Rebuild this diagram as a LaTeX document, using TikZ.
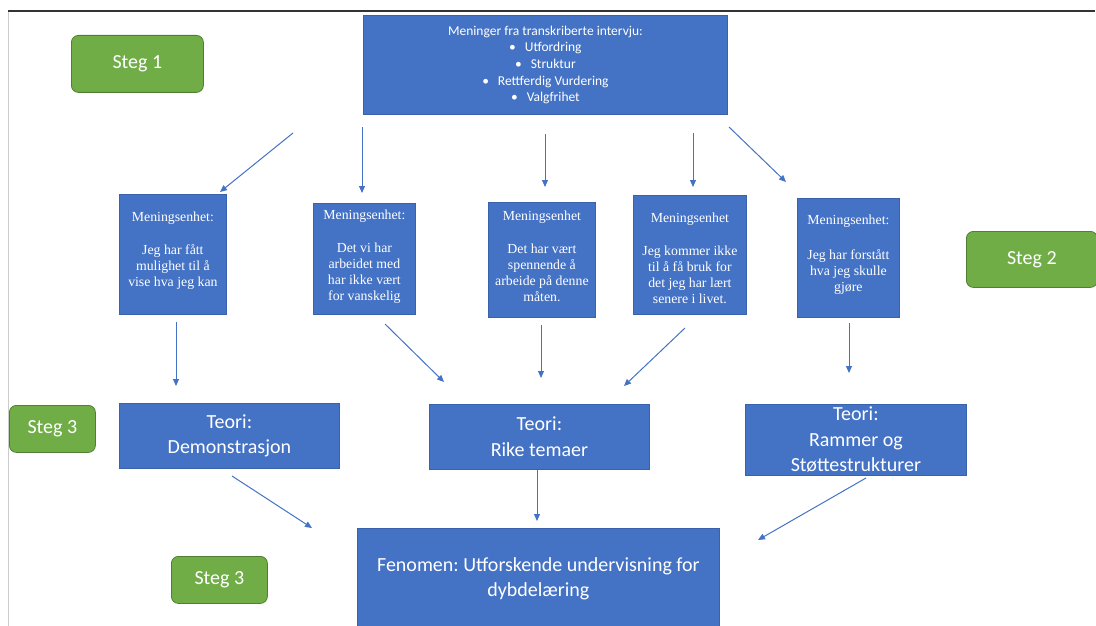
\documentclass[tikz,border=0pt]{standalone}
\usepackage{fontspec}
\setmainfont{Carlito}
\newfontfamily\timesfont{Liberation Serif}
\usetikzlibrary{arrows.meta}
\frenchspacing

\definecolor{boksblaa}{HTML}{4472C4}
\definecolor{kantblaa}{HTML}{3A62AC}
\definecolor{steggronn}{HTML}{70AD47}
\definecolor{kantgronn}{HTML}{507E32}

\tikzset{
  boks/.style={draw=kantblaa,fill=boksblaa,text=white,line width=0.8pt,inner sep=0pt,anchor=north west},
  enhetboks/.style={boks,font=\timesfont\fontsize{13.8}{16}\selectfont},
  teoriboks/.style={boks,align=center,font=\fontsize{20}{25.5}\selectfont},
  stegboks/.style={draw=kantgronn,fill=steggronn,text=white,rounded corners=7pt,line width=0.8pt,
    inner sep=0pt,anchor=north west,font=\fontsize{20}{24}\selectfont},
  pil/.style={draw=boksblaa,line width=1pt,-{Triangle[length=7pt,width=6pt]}},
}
% tekst i meningsenhet-boksene: bredde, hoyde, luft over, tekst
\newcommand{\enhet}[4]{\parbox[c][#2][t]{#1}{\centering\vspace*{#3}#4}}

\begin{document}
\begin{tikzpicture}[x=1pt,y=-1pt]
\useasboundingbox (0,0) rectangle (1096,626);
% skjermbilde-ramme
\draw[black!20,line width=0.8pt] (8,11) -- (8,626);
\draw[black!80,line width=1.5pt] (8,11) -- (1095,11);

% steg 1
\node[boks,minimum width=364pt,minimum height=99pt,align=center,
  font=\fontsize{13.5}{16.7}\selectfont] (intervju) at (363,15)
  {Meninger fra transkriberte intervju:\\
   \textbullet\hspace{9pt}Utfordring\\
   \textbullet\hspace{9pt}Struktur\\
   \textbullet\hspace{9pt}Rettferdig Vurdering\\
   \textbullet\hspace{9pt}Valgfrihet};
\node[stegboks,minimum width=132pt,minimum height=57pt] (steg1) at (71,35) {Steg 1};

% steg 2
\node[enhetboks] (enhet1) at (119,194) {\enhet{107pt}{120pt}{18pt}{Meningsenhet:\\[17pt]Jeg har fått\\mulighet til å\\vise hva jeg kan}};
\node[enhetboks] (enhet2) at (313,203) {\enhet{102pt}{111pt}{7pt}{Meningsenhet:\\[17pt]Det vi har\\arbeidet med\\har ikke vært\\for vanskelig}};
\node[enhetboks] (enhet3) at (488,202) {\enhet{107pt}{115pt}{9pt}{Meningsenhet\\[17pt]Det har vært\\spennende å\\arbeide på denne\\måten.}};
\node[enhetboks] (enhet4) at (633,195) {\enhet{113pt}{119pt}{18pt}{Meningsenhet\\[17pt]Jeg kommer ikke\\til å få bruk for\\det jeg har lært\\senere i livet.}};
\node[enhetboks] (enhet5) at (797,198) {\enhet{102pt}{119pt}{17pt}{Meningsenhet:\\[19pt]Jeg har forstått\\hva jeg skulle\\gjøre}};
\node[stegboks,minimum width=131pt,minimum height=56pt] (steg2) at (966,231) {Steg 2};

% steg 3
\node[teoriboks,minimum width=220pt,minimum height=65pt] (teori1) at (119,403) {Teori:\\Demonstrasjon};
\node[teoriboks,minimum width=220pt,minimum height=65pt] (teori2) at (429,404) {Teori:\\Rike temaer};
\node[teoriboks,minimum width=221pt,minimum height=71pt] (teori3) at (745,404) {Teori:\\Rammer og\\Støttestrukturer};
\node[stegboks,minimum width=86pt,minimum height=47pt] (steg3a) at (9,405) {Steg 3};

\node[boks,minimum width=362pt,minimum height=100pt,align=center,
  font=\fontsize{20}{25}\selectfont] (fenomen) at (357,528)
  {Fenomen: Utforskende undervisning for\\dybdelæring};
\node[stegboks,minimum width=96pt,minimum height=47pt] (steg3b) at (171,556) {Steg 3};

% piler
\coordinate (p1a) at (293,133); \coordinate (p1b) at (220,192);
\coordinate (p2a) at (362,127); \coordinate (p2b) at (362,193);
\coordinate (p3a) at (545,134); \coordinate (p3b) at (545,187);
\coordinate (p4a) at (693,133); \coordinate (p4b) at (693,187);
\coordinate (p5a) at (729,127); \coordinate (p5b) at (786,182);
\coordinate (p6a) at (176,322); \coordinate (p6b) at (176,386);
\coordinate (p7a) at (385,324); \coordinate (p7b) at (444,382);
\coordinate (p8a) at (541,325); \coordinate (p8b) at (541,378);
\coordinate (p9a) at (685,328); \coordinate (p9b) at (624,386);
\coordinate (p10a) at (849,323); \coordinate (p10b) at (849,373);
\coordinate (p11a) at (232,476); \coordinate (p11b) at (312,528);
\coordinate (p12a) at (537,470); \coordinate (p12b) at (537,521);
\coordinate (p13a) at (866,478); \coordinate (p13b) at (758,540);
\foreach \i in {1,...,13}
  \draw[pil] (p\i a) -- (p\i b);
\end{tikzpicture}
\end{document}
